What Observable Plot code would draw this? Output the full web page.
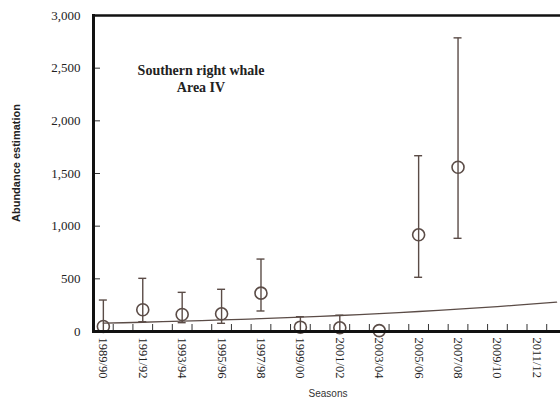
<!DOCTYPE html>
<html>
<head>
<meta charset="utf-8">
<script src="https://cdn.jsdelivr.net/npm/d3@7"></script>
<script src="https://cdn.jsdelivr.net/npm/@observablehq/plot@0.6"></script>
<style>
  html, body { margin: 0; padding: 0; background: #fff; }
  #chart svg { display: block; }
</style>
</head>
<body>
<div id="chart"></div>
<script>
// Survey seasons (start year) with abundance estimates and 95% CI bounds
const surveySeasons = [1989, 1991, 1993, 1995, 1997, 1999, 2001, 2003, 2005, 2007];
const estimates     = [47, 206, 161, 168, 364, 41, 35, 8, 918, 1559];
const lowerCI       = [0, 88, 79, 73, 190, 0, 0, 8, 510, 880];
const upperCI       = [294, 500, 367, 396, 683, 136, 150, 8, 1664, 2783];

// Fitted trajectory, one value per season start year
const trendYears  = [1989, 1990, 1991, 1992, 1993, 1994, 1995, 1996, 1997, 1998, 1999, 2000,
                     2001, 2002, 2003, 2004, 2005, 2006, 2007, 2008, 2009, 2010, 2011, 2012];
const trendValues = [79, 83, 88, 93, 98, 104, 110, 116, 122, 129, 136, 144,
                     152, 161, 170, 179, 190, 200, 212, 224, 236, 250, 264, 279];

// Axis labels
const seasonLabels = ["1989/90", "1991/92", "1993/94", "1995/96", "1997/98", "1999/00",
                      "2001/02", "2003/04", "2005/06", "2007/08", "2009/10", "2011/12"];
const yTicks = [0, 500, 1000, 1500, 2000, 2500, 3000];
const titleLines = ["Southern right whale", "Area IV"];

const points = surveySeasons.map((s, i) => ({season: s, est: estimates[i], lo: lowerCI[i], hi: upperCI[i]}));
const withCI = points.filter(d => d.hi > d.lo);
const trend = trendYears.map((y, i) => ({year: y, value: trendValues[i]}));
const labelYears = seasonLabels.map(l => +l.slice(0, 4));
const labelMap = new Map(seasonLabels.map(l => [+l.slice(0, 4), l]));
const minorTicks = trendYears.slice(0, -1).map(y => y + 0.5);

const ink = "#5b4c47";
const serif = "'Liberation Serif', 'Times New Roman', serif";
const sans = "'Liberation Sans', Arial, sans-serif";

const W = 560, H = 398, mL = 93, mR = 0, mT = 15, mB = 67;
const frameW = W - mL - mR, frameH = H - mT - mB;

// Caps: short horizontal strokes centred on each interval end
function capRender(index, scales, values) {
  const g = d3.create("svg:g");
  for (const i of index) {
    const cx = values.x[i], cy = values.y[i];
    g.append("line").attr("x1", cx - 4).attr("x2", cx + 4).attr("y1", cy).attr("y2", cy)
      .attr("stroke", ink).attr("stroke-width", 1.4);
  }
  return g.node();
}

const chart = Plot.plot({
  width: W,
  height: H,
  marginLeft: mL,
  marginRight: mR,
  marginTop: mT,
  marginBottom: mB,
  style: {background: "#fff", overflow: "visible"},
  x: {type: "linear", domain: [1988.5, 2012.2]},
  y: {domain: [0, 3000]},
  marks: [
    // fitted trend
    Plot.line(trend, {x: "year", y: "value", stroke: ink, strokeWidth: 1.3}),
    // confidence intervals with caps
    Plot.ruleX(withCI, {x: "season", y1: "lo", y2: "hi", stroke: ink, strokeWidth: 1.4}),
    Plot.dot(withCI.filter(d => d.lo > 0), {x: "season", y: "lo", render: capRender}),
    Plot.dot(withCI, {x: "season", y: "hi", render: capRender}),
    // estimates
    Plot.dot(points, {x: "season", y: "est", r: 6, stroke: ink, strokeWidth: 1.6, fill: "none"}),
    // inward minor ticks on the season axis
    Plot.tickX(minorTicks, {x: d => d, stroke: "#333", strokeWidth: 1, insetTop: frameH - 7}),
    // inward ticks on the abundance axis
    Plot.tickY(yTicks.slice(1, -1), {y: d => d, stroke: "#333", strokeWidth: 1, insetRight: frameW - 7}),
    Plot.axisY({ticks: yTicks, tickFormat: d3.format(","), tickSize: 0, tickPadding: 13,
      fontFamily: serif, fontSize: 13, fill: "#222", label: null}),
    Plot.axisX({ticks: labelYears, tickFormat: d => labelMap.get(d), tickSize: 0, tickPadding: 6,
      tickRotate: 90, fontFamily: serif, fontSize: 12.5, fill: "#222", label: null}),
    // frame spines
    Plot.frame({anchor: "left", stroke: "#111", strokeWidth: 3}),
    Plot.frame({anchor: "bottom", stroke: "#111", strokeWidth: 3}),
    Plot.frame({anchor: "top", stroke: "#111", strokeWidth: 2.5})
  ]
});

const svg = d3.select(chart);
// in-plot title
svg.append("text")
  .attr("x", 201).attr("y", 75)
  .attr("text-anchor", "middle")
  .attr("font-family", serif).attr("font-weight", "bold").attr("font-size", 14).attr("fill", "#222")
  .selectAll("tspan").data(titleLines).join("tspan")
  .attr("x", 201).attr("dy", (d, i) => i === 0 ? 0 : 16.5)
  .text(d => d);
// axis titles
svg.append("text")
  .attr("transform", "translate(20,163) rotate(-90)")
  .attr("text-anchor", "middle")
  .attr("font-family", sans).attr("font-weight", "bold").attr("font-size", 11).attr("fill", "#222")
  .text("Abundance estimation");
svg.append("text")
  .attr("x", 328).attr("y", 397)
  .attr("text-anchor", "middle")
  .attr("font-family", sans).attr("font-size", 10).attr("fill", "#333")
  .text("Seasons");

document.getElementById("chart").append(chart);
</script>
</body>
</html>
